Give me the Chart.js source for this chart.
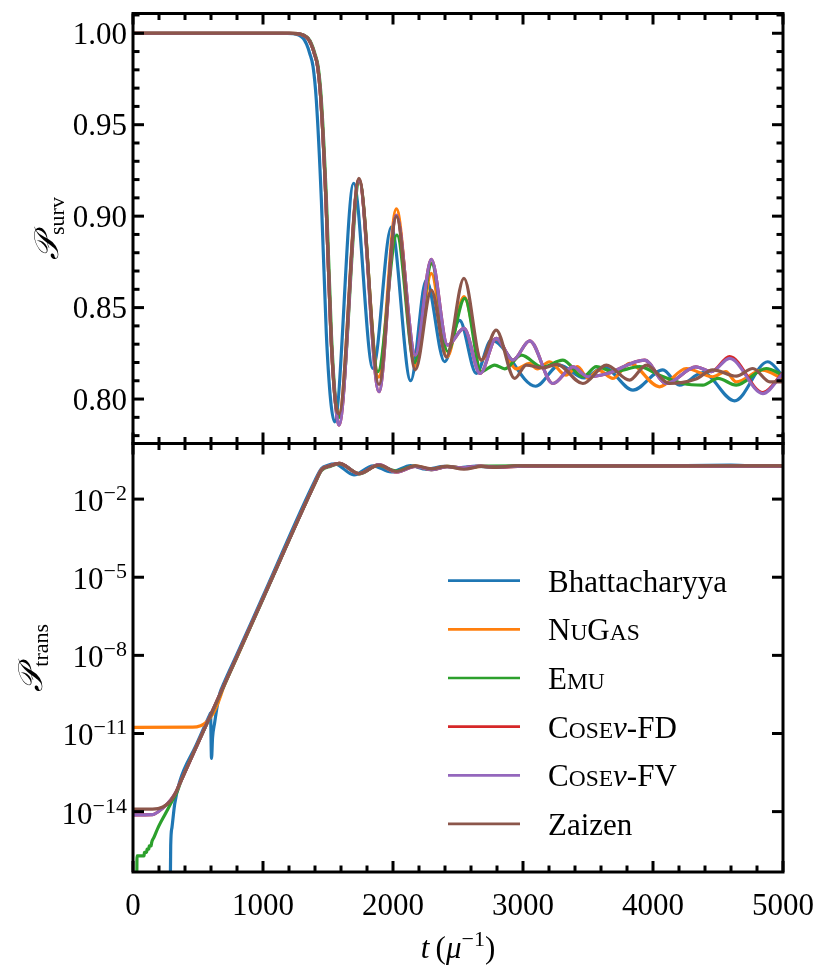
<!DOCTYPE html>
<html><head><meta charset="utf-8">
<script src="https://cdn.jsdelivr.net/npm/chart.js@4.4.1/dist/chart.umd.min.js"></script>
<style>
html,body{margin:0;padding:0;background:#fff;}
#wrap{position:relative;width:830px;height:980px;background:#fff;}
canvas{position:absolute;left:0;top:0;}
</style></head><body>
<div id="wrap"><canvas id="cTop" width="830" height="980"></canvas><canvas id="cBot" width="830" height="980"></canvas></div>
<script>
// ---------------- DATA ----------------
const seriesNames = ['Bhattacharyya','NuGas','Emu','Cose\u03bd-FD','Cose\u03bd-FV','Zaizen'];
const seriesColors = ['#1f77b4','#ff7f0e','#2ca02c','#d62728','#9467bd','#8c564b'];

const xMajorTicks = [0,1000,2000,3000,4000,5000];
const xTickLabels = ['0','1000','2000','3000','4000','5000'];
const survTicks = [0.80,0.85,0.90,0.95,1.00];
const survTickLabels = ['0.80','0.85','0.90','0.95','1.00'];
const transTicks = [1e-14,1e-11,1e-8,1e-5,1e-2];
const transTickExps = ['\u221214','\u221211','\u22128','\u22125','\u22122'];

// survival probability (top panel)
const tSurvBhatt = [0,1150,1231,1308,1335,1359,1385,1410,1449,1487,1520,1551,1697,1846,1987,2136,2256,2397,2512,2641,2756,3097,3281,3470,3620,3846,4076,4204,4383,4627,4883,5000];
const survBhatt  = [1.0,1.0,0.9998,0.9973,0.994,0.9891,0.9818,0.9635,0.9088,0.836,0.7995,0.7875,0.918,0.8167,0.894,0.810,0.865,0.8204,0.843,0.814,0.8322,0.807,0.8186,0.8115,0.8175,0.8049,0.816,0.8076,0.8144,0.799,0.8204,0.8125];

const tSurvNuGas = [0,1200,1266,1343,1370,1394,1420,1445,1484,1522,1555,1585,1738,1890,2026,2172,2295,2415,2546,2679,2794,2950,3050,3110,3204,3330,3420,3500,3580,3692,3820,4050,4256,4460,4560,4640,4840,5000];
const survNuGas  = [1.0,1.0,0.9998,0.9973,0.994,0.9891,0.9818,0.9635,0.9088,0.836,0.7995,0.792,0.920,0.812,0.904,0.818,0.8687,0.823,0.856,0.8213,0.833,0.8165,0.8195,0.8165,0.8204,0.8131,0.8177,0.8113,0.8158,0.8113,0.8195,0.8067,0.8167,0.8122,0.8150,0.8094,0.8158,0.811];

const tSurvEmu = [0,1205,1270,1347,1374,1398,1424,1449,1488,1526,1558,1588,1742,1884,2030,2165,2298,2420,2552,2679,2782,2860,2987,3150,3307,3461,3564,3700,3897,4050,4230,4383,4500,4640,4871,5000];
const survEmu  = [1.0,1.0,0.9998,0.9973,0.994,0.9891,0.9818,0.9635,0.9088,0.836,0.7995,0.790,0.919,0.815,0.8897,0.820,0.874,0.826,0.855,0.815,0.8186,0.8165,0.824,0.8175,0.8213,0.8122,0.8177,0.8150,0.8177,0.8130,0.8085,0.8076,0.8113,0.8076,0.8167,0.813];

const tSurvFD = [0,1200,1266,1343,1370,1394,1420,1445,1484,1522,1555,1585,1738,1892,2026,2172,2295,2420,2546,2671,2794,2922,3051,3230,3384,3500,3650,3935,4102,4330,4450,4589,4845,5000];
const survFD  = [1.0,1.0,0.9998,0.9973,0.994,0.9891,0.9818,0.9635,0.9088,0.836,0.7995,0.7857,0.920,0.804,0.9005,0.824,0.8764,0.8295,0.8386,0.814,0.8332,0.8213,0.8318,0.8085,0.8176,0.8122,0.8140,0.8213,0.8085,0.8176,0.8150,0.8232,0.8035,0.8145];

const tSurvFV = [0,1200,1266,1343,1370,1394,1420,1445,1484,1522,1555,1585,1738,1892,2026,2172,2295,2420,2546,2671,2794,2922,3051,3230,3384,3500,3650,3935,4102,4330,4450,4589,4845,5000];
const survFV  = [1.0,1.0,0.9998,0.9973,0.994,0.9891,0.9818,0.9635,0.9088,0.836,0.7995,0.7857,0.920,0.804,0.9005,0.824,0.8764,0.8295,0.8386,0.814,0.8332,0.8213,0.8318,0.8085,0.8176,0.8122,0.8140,0.8213,0.8085,0.8176,0.8150,0.8222,0.803,0.814];

const tSurvZaizen = [0,1200,1266,1343,1370,1394,1420,1445,1484,1522,1555,1585,1738,1892,2026,2172,2295,2410,2546,2679,2794,2935,3026,3150,3260,3461,3641,3820,3949,4127,4330,4460,4640,4768,4900,5000];
const survZaizen  = [1.0,1.0,0.9998,0.9973,0.994,0.9891,0.9818,0.9635,0.9088,0.836,0.7995,0.792,0.9207,0.808,0.8997,0.816,0.8596,0.823,0.866,0.8213,0.8377,0.8113,0.8186,0.8170,0.8190,0.8085,0.8186,0.8104,0.8186,0.8085,0.811,0.816,0.8125,0.8167,0.8094,0.8094];

// transition probability (bottom panel)
const tTransBhatt = [283,290,300,321,359,480,590,596,604,612,628,646,668,700,800,1000,1400,1450,1500,1551,1700,1846,1987,2136,2256,2397,2512,2641,2756,3100,3500,4000,4600,4900,5000];
const transBhatt  = [1e-19,5e-16,2.5e-15,2e-14,1.4e-13,3.1e-12,5.2e-11,6e-11,1.1e-12,7e-12,2.6e-11,1e-10,3.5e-10,8.7e-10,1.1e-8,1.86e-6,0.052,0.15,0.2,0.225,0.085,0.19,0.11,0.195,0.14,0.18,0.16,0.186,0.17,0.193,0.188,0.19,0.2,0.18,0.188];

const tTransNuGas = [0,460,520,564,615,654,700,800,1000,1400,1450,1513,1585,1738,1890,2026,2172,2295,2415,2546,2679,2794,3000,3500,4000,4500,5000];
const transNuGas  = [1.73e-11,1.75e-11,2e-11,2.7e-11,5.7e-11,1.5e-10,6.5e-10,8.5e-9,1.55e-6,0.042,0.135,0.186,0.235,0.095,0.2,0.11,0.19,0.14,0.18,0.15,0.18,0.17,0.185,0.188,0.19,0.185,0.19];

const tTransEmu = [27,31,85,88,105,108,122,125,140,143,160,200,250,300,334,370,600,1000,1400,1450,1520,1590,1745,1884,2030,2165,2298,2420,2552,2679,3000,3500,4000,4500,5000];
const transEmu  = [1e-19,2e-16,2e-16,2.7e-16,2.7e-16,3.6e-16,3.6e-16,4.8e-16,4.8e-16,6.3e-16,1e-15,2.9e-15,8.5e-15,2.5e-14,5e-14,1.5e-13,5.2e-11,1.45e-6,0.04,0.125,0.183,0.232,0.093,0.2,0.12,0.185,0.135,0.18,0.15,0.185,0.19,0.187,0.19,0.192,0.188];

const tTransFD = [0,150,231,290,330,360,600,1000,1400,1450,1513,1588,1738,1892,2026,2172,2295,2420,2546,2671,2794,3000,3500,4000,4500,5000];
const transFD  = [7.5e-15,7.7e-15,1.4e-14,2.8e-14,5.5e-14,1.2e-13,5.5e-11,1.55e-6,0.042,0.135,0.186,0.236,0.094,0.21,0.11,0.18,0.135,0.175,0.16,0.186,0.167,0.185,0.188,0.19,0.185,0.186];

const tTransFV = [0,150,231,290,330,360,600,1000,1400,1450,1513,1588,1738,1892,2026,2172,2295,2420,2546,2671,2794,3000,3500,4000,4500,5000];
const transFV  = [7.5e-15,7.7e-15,1.4e-14,2.8e-14,5.5e-14,1.2e-13,5.5e-11,1.55e-6,0.042,0.135,0.186,0.236,0.094,0.21,0.11,0.18,0.135,0.175,0.16,0.186,0.167,0.185,0.188,0.19,0.185,0.186];

const tTransZaizen = [0,150,230,290,330,360,600,1000,1400,1450,1513,1585,1738,1892,2026,2172,2295,2410,2546,2679,2794,2935,3500,4000,4500,5000];
const transZaizen  = [1.25e-14,1.25e-14,1.5e-14,2.6e-14,5.5e-14,1.2e-13,5.5e-11,1.55e-6,0.042,0.135,0.186,0.235,0.095,0.2,0.115,0.19,0.145,0.18,0.14,0.18,0.165,0.19,0.19,0.188,0.19,0.19];

// legend text pieces (n = normal, sc = small capital, i = italic)
const legendPieces = [
  [['Bhattacharyya','n']],
  [['N','n'],['U','sc'],['G','n'],['AS','sc']],
  [['E','n'],['MU','sc']],
  [['C','n'],['OSE','sc'],['\u03bd','i'],['-FD','n']],
  [['C','n'],['OSE','sc'],['\u03bd','i'],['-FV','n']],
  [['Zaizen','n']]
];

// ---------------- HELPERS ----------------
const FONT = "'Liberation Serif','DejaVu Serif',serif";
const FS = 31;
function pts(t, v){ return t.map((x,i)=>({x:x, y:v[i]})); }
function mkSets(tl, vl){
  return tl.map((t,i)=>({
    label: seriesNames[i], data: pts(t, vl[i]),
    borderColor: seriesColors[i], backgroundColor: seriesColors[i],
    borderWidth: 3.2, pointRadius: 0, fill: false, order: 5 - i,
    cubicInterpolationMode: 'monotone', borderJoinStyle: 'round'
  }));
}
function seg(ctx,x1,y1,x2,y2){ ctx.beginPath(); ctx.moveTo(x1,y1); ctx.lineTo(x2,y2); ctx.stroke(); }
function drawXTicks(chart, labels){
  const ctx = chart.ctx, a = chart.chartArea, xs = chart.scales.x;
  for (let v = 0; v <= 5000; v += 200){
    const x = xs.getPixelForValue(v);
    const L = xMajorTicks.includes(v) ? 11 : 6.5;
    seg(ctx, x, a.top, x, a.top + L);
    seg(ctx, x, a.bottom, x, a.bottom - L);
  }
  if (labels){
    ctx.fillStyle = '#000'; ctx.font = FS + 'px ' + FONT; ctx.textAlign = 'center'; ctx.textBaseline = 'alphabetic';
    xMajorTicks.forEach((v,i)=>{ ctx.fillText(xTickLabels[i], xs.getPixelForValue(v), a.bottom + 43); });
  }
}
function drawYTitle(ctx, baseX, cy, main, sub){
  ctx.save();
  ctx.translate(baseX, cy);
  ctx.rotate(-Math.PI/2);
  ctx.fillStyle = '#000';
  ctx.textAlign = 'left'; ctx.textBaseline = 'alphabetic';
  ctx.font = 'italic 34px ' + FONT;
  const wM = ctx.measureText(main).width;
  ctx.font = '22px ' + FONT;
  const wS = ctx.measureText(sub).width;
  const x0 = -(wM + wS) / 2;
  ctx.font = 'italic 34px ' + FONT;
  ctx.fillText(main, x0, 0);
  ctx.font = '22px ' + FONT;
  ctx.fillText(sub, x0 + wM, 6);
  ctx.restore();
}

const topAxes = {
  id: 'topAxes',
  afterDraw(chart){
    const ctx = chart.ctx, a = chart.chartArea, ys = chart.scales.y;
    ctx.save();
    ctx.strokeStyle = '#000'; ctx.lineWidth = 3; ctx.lineCap = 'butt';
    drawXTicks(chart, false);
    for (let k = 78; k <= 101; k++){
      const v = k / 100, y = ys.getPixelForValue(v);
      const L = (k % 5 === 0) ? 11 : 6.5;
      seg(ctx, a.left, y, a.left + L, y);
      seg(ctx, a.right, y, a.right - L, y);
    }
    ctx.strokeRect(a.left, a.top, a.right - a.left, a.bottom - a.top);
    ctx.fillStyle = '#000'; ctx.font = FS + 'px ' + FONT; ctx.textAlign = 'right'; ctx.textBaseline = 'alphabetic';
    survTicks.forEach((v,i)=>{ ctx.fillText(survTickLabels[i], a.left - 6, ys.getPixelForValue(v) + 10.5); });
    ctx.restore();
    drawYTitle(ctx, 58, (a.top + a.bottom) / 2, '\ud835\udcab', 'surv');
  }
};

const botAxes = {
  id: 'botAxes',
  afterDraw(chart){
    const ctx = chart.ctx, a = chart.chartArea, ys = chart.scales.y;
    ctx.save();
    ctx.strokeStyle = '#000'; ctx.lineWidth = 3; ctx.lineCap = 'butt';
    drawXTicks(chart, true);
    transTicks.forEach(v=>{
      const y = ys.getPixelForValue(v);
      seg(ctx, a.left, y, a.left + 11, y);
      seg(ctx, a.right, y, a.right - 11, y);
    });
    ctx.strokeRect(a.left, a.top, a.right - a.left, a.bottom - a.top);
    ctx.fillStyle = '#000'; ctx.textBaseline = 'alphabetic'; ctx.textAlign = 'left';
    transTicks.forEach((v,i)=>{
      const y = ys.getPixelForValue(v);
      ctx.font = '22px ' + FONT; const wS = ctx.measureText(transTickExps[i]).width;
      ctx.font = FS + 'px ' + FONT; const wB = ctx.measureText('10').width;
      const x0 = a.left - 6 - wS - wB;
      ctx.fillText('10', x0, y + 12);
      ctx.font = '22px ' + FONT; ctx.fillText(transTickExps[i], x0 + wB, y + 1);
    });
    // x title: t (mu^-1)
    const parts = [['t','italic '+FS+'px '+FONT,0],['\u2009(', FS+'px '+FONT,0],['\u03bc','italic '+FS+'px '+FONT,0],['\u22121','22px '+FONT,-12],[')', FS+'px '+FONT,0]];
    let tw = 0; parts.forEach(p=>{ ctx.font = p[1]; p.push(ctx.measureText(p[0]).width); tw += p[3]; });
    let x = (a.left + a.right) / 2 - tw / 2;
    parts.forEach(p=>{ ctx.font = p[1]; ctx.fillText(p[0], x, 958 + p[2]); x += p[3]; });
    // legend
    const rowY0 = 580.7, rowDY = 48.65;
    chart.data.datasets.forEach((ds, i)=>{
      const yy = rowY0 + i * rowDY;
      ctx.strokeStyle = ds.borderColor; ctx.lineWidth = 2.7;
      seg(ctx, 448, yy, 520, yy);
      let lx = 548;
      ctx.fillStyle = '#000';
      legendPieces[i].forEach(pc=>{
        const f = pc[1] === 'sc' ? '23.5px ' + FONT : (pc[1] === 'i' ? 'italic ' + FS + 'px ' + FONT : FS + 'px ' + FONT);
        ctx.font = f; ctx.fillText(pc[0], lx, yy + 11); lx += ctx.measureText(pc[0]).width;
      });
    });
    ctx.restore();
    drawYTitle(ctx, 42, (a.top + a.bottom) / 2, '\ud835\udcab', 'trans');
  }
};

function baseOptions(pad, yScale){
  return {
    responsive: false, animation: false,
    layout: { padding: pad },
    scales: { x: { type: 'linear', min: 0, max: 5000, display: false }, y: yScale },
    plugins: { legend: { display: false }, tooltip: { enabled: false } }
  };
}

new Chart(document.getElementById('cTop'), {
  type: 'line',
  data: { datasets: mkSets([tSurvBhatt,tSurvNuGas,tSurvEmu,tSurvFD,tSurvFV,tSurvZaizen],[survBhatt,survNuGas,survEmu,survFD,survFV,survZaizen]) },
  options: baseOptions({left:133, right:47, top:13.5, bottom:536.5}, { type: 'linear', min: 0.7757, max: 1.0108, display: false }),
  plugins: [topAxes]
});

new Chart(document.getElementById('cBot'), {
  type: 'line',
  data: { datasets: mkSets([tTransBhatt,tTransNuGas,tTransEmu,tTransFD,tTransFV,tTransZaizen],[transBhatt,transNuGas,transEmu,transFD,transFV,transZaizen]) },
  options: baseOptions({left:133, right:47, top:443.5, bottom:108}, { type: 'logarithmic', min: 4.8e-17, max: 1.365, display: false }),
  plugins: [botAxes]
});
</script>
</body></html>
